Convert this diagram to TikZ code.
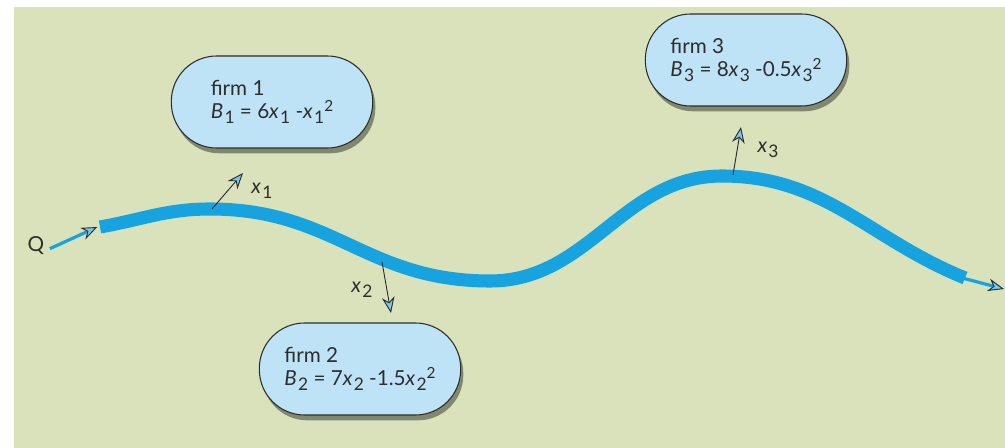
\documentclass[tikz,border=0pt]{standalone}
\usepackage{fontspec}
\setmainfont{Lato}
\usetikzlibrary{arrows.meta,shadows}
\definecolor{bg}{RGB}{217,226,186}
\definecolor{boxblue}{RGB}{190,227,247}
\definecolor{flowblue}{RGB}{22,163,224}
\definecolor{tipblue}{RGB}{120,200,240}
\definecolor{dark}{RGB}{45,45,45}
\newcommand{\mysub}[1]{\kern1pt\raisebox{-3.5pt}{\fontsize{13pt}{13pt}\selectfont #1}}
\newcommand{\mysup}[1]{\raisebox{5.5pt}{\fontsize{11.5pt}{11.5pt}\selectfont #1}}
\begin{document}
\begin{tikzpicture}[x=0.75pt,y=-0.75pt,
  every node/.style={font=\fontsize{15.5pt}{17.5pt}\selectfont, text=dark},
  firmbox/.style={draw=dark, fill=boxblue, line width=0.8pt, rounded corners=34pt,
    minimum width=151pt, minimum height=69pt, align=left,
    drop shadow={shadow xshift=2pt, shadow yshift=-4pt, fill=black, opacity=0.4}},
  headtip/.style={-{Stealth[length=12pt,width=9.5pt,inset=3.8pt,fill=tipblue,color=dark,line width=0.7pt]}},
  thinflow/.style={draw=flowblue, line width=2.4pt, headtip},
  thickflow/.style={draw=flowblue, line width=9.8pt},
  takeoff/.style={draw=dark, line width=0.7pt, headtip},
  lab/.style={inner sep=1pt}]
\useasboundingbox (0,0) rectangle (1005,448);
\fill[bg] (14,7) rectangle (1005,448);

% firm boxes
\node[firmbox] (f1) at (272,102) {firm 1\\\textit{B}\mysub{1} = 6\textit{x}\mysub{1} -\textit{x}\mysub{1}\mysup{2}};
\node[firmbox] (f2) at (360,369) {firm 2\\\textit{B}\mysub{2} = 7\textit{x}\mysub{2} -1.5\textit{x}\mysub{2}\mysup{2}};
\node[firmbox] (f3) at (746,60) {firm 3\\\textit{B}\mysub{3} = 8\textit{x}\mysub{3} -0.5\textit{x}\mysub{3}\mysup{2}};

% main flow
\node[lab] (q) at (36,246) {Q};
\coordinate (s) at (100,227);
\coordinate (p1) at (212,209);
\coordinate (p2) at (382,262);
\coordinate (tr) at (490,281);
\coordinate (p3) at (733,175);
\coordinate (pk3) at (722,176);
\coordinate (e) at (965,278);
\coordinate (out) at (1004,289);
\coordinate (t1) at (243,173);
\coordinate (t2) at (391,313);
\coordinate (t3) at (741,127);

\draw[thinflow] (q.east) ++(3pt,-2pt) -- ([xshift=-2pt]s);
\draw[thickflow] (s) to[out=10,in=180] (210,209) to[out=0,in=180,looseness=1.1] (tr)
  to[out=0,in=180,looseness=1.0] (pk3) to[out=0,in=158,looseness=1.0] (e);
\draw[thinflow] ([xshift=-2pt]e) -- (out);

% take-off arrows
\draw[takeoff] (p1) -- (t1);
\draw[takeoff] (p2) -- (t2);
\draw[takeoff] (p3) -- (t3);
\node[lab] (l1) at (262,191) {\textit{x}\mysub{1}};
\node[lab] (l2) at (362,290) {\textit{x}\mysub{2}};
\node[lab] (l3) at (768,150) {\textit{x}\mysub{3}};
\end{tikzpicture}
\end{document}
